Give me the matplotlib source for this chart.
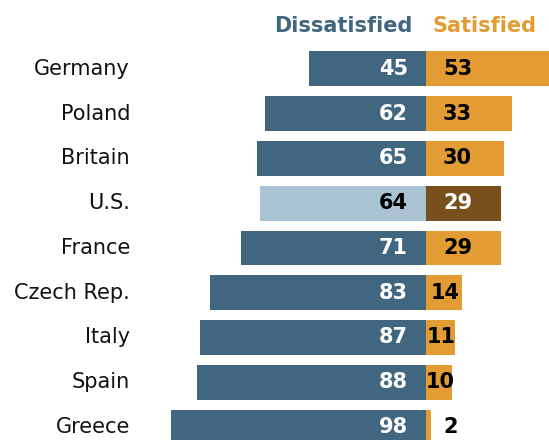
import matplotlib
matplotlib.use("Agg")
import matplotlib.pyplot as plt

countries = ["Germany", "Poland", "Britain", "U.S.", "France",
             "Czech Rep.", "Italy", "Spain", "Greece"]
dissatisfied = [45, 62, 65, 64, 71, 83, 87, 88, 98]
satisfied = [53, 33, 30, 29, 29, 14, 11, 10, 2]
highlight = "U.S."

DIS_COLOR = "#41667f"
SAT_COLOR = "#e39b33"
DIS_HI = "#aac3d3"
SAT_HI = "#7a4f1e"

plt.rcParams["font.family"] = ["DejaVu Sans"]

fig = plt.figure(figsize=(5.49, 4.40), dpi=100)
ax = fig.add_axes([0, 0, 1, 1])
ax.set_xlim(-163.8, 47.3)
ax.set_ylim(8.29, -1.54)
ax.axis("off")

fs = 15
ys = list(range(len(countries)))
for y, name, d, s in zip(ys, countries, dissatisfied, satisfied):
    hi = name == highlight
    ax.barh(y, -d, height=0.78, color=DIS_HI if hi else DIS_COLOR, linewidth=0)
    ax.barh(y, s, height=0.78, color=SAT_HI if hi else SAT_COLOR, linewidth=0)

    ax.text(-113.8, y, name, ha="right", va="center", fontsize=fs, color="#111111")
    ax.text(-6.9, y, str(d), ha="right", va="center", fontsize=fs,
            fontweight="bold", color="black" if hi else "white")
    if 5 <= s < 20:
        sx, ha = s / 2 + 0.3, "center"
    else:
        sx, ha = 6.5, "left"
    ax.text(sx, y, str(s), ha=ha, va="center", fontsize=fs,
            fontweight="bold", color="white" if hi else "black")

ax.text(-5.0, -0.96, "Dissatisfied", ha="right", va="center", fontsize=fs,
        fontweight="bold", color=DIS_COLOR)
ax.text(2.6, -0.96, "Satisfied", ha="left", va="center", fontsize=fs,
        fontweight="bold", color=SAT_COLOR)

fig.savefig("out.png", dpi=100)
